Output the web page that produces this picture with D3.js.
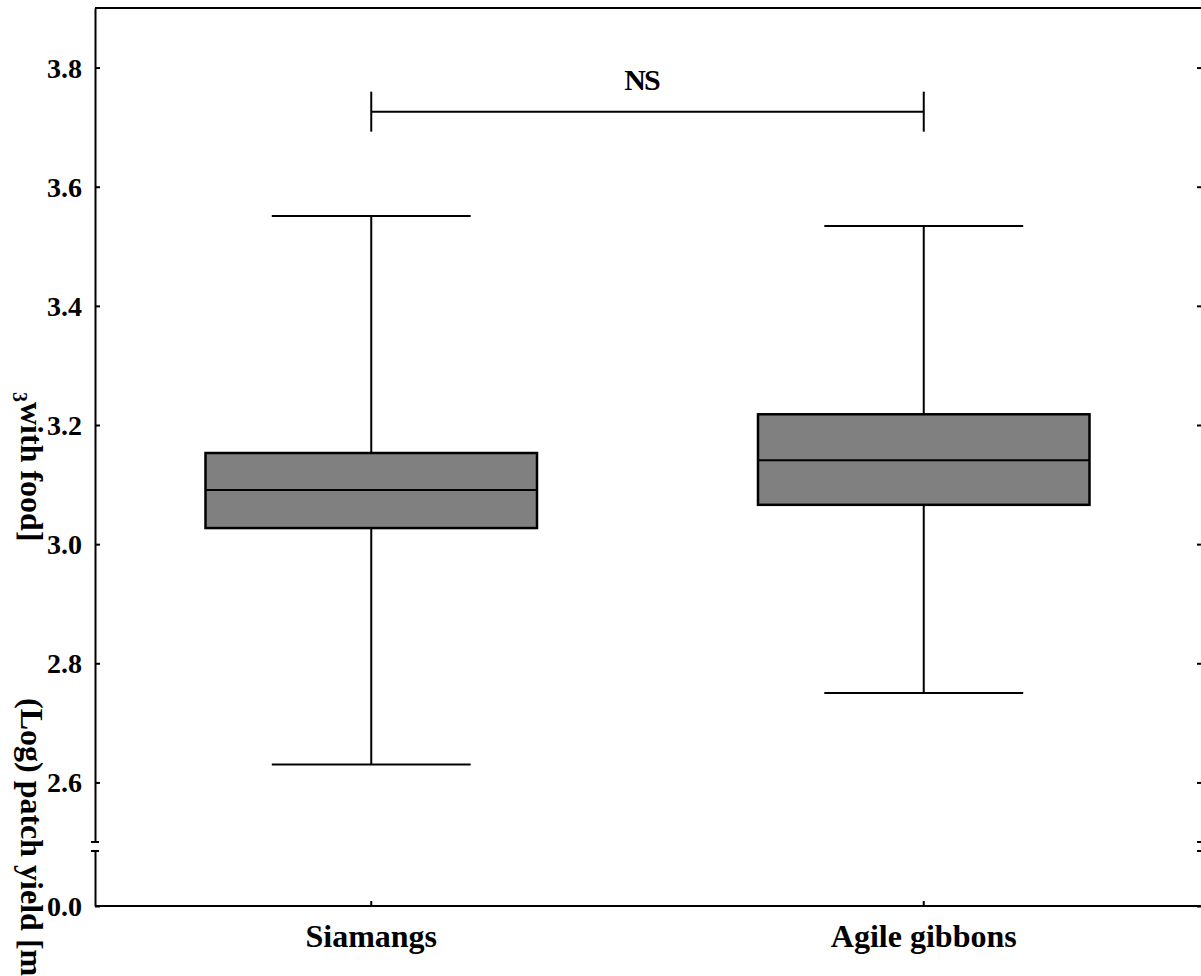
<!DOCTYPE html>
<html>
<head>
<meta charset="utf-8">
<script src="https://cdn.jsdelivr.net/npm/d3@7"></script>
<style>
  body { margin: 0; background: #fff; }
  svg { display: block; }
  .lbl { font-family: 'Liberation Serif', 'Times New Roman', serif; font-weight: bold; fill: #000; }
</style>
</head>
<body>
<svg id="chart" width="1201" height="976"></svg>
<script>
const categories = ['Siamangs', 'Agile gibbons'];
const whiskerHigh = [3.551, 3.534];
const upperQuartile = [3.153, 3.218];
const medians = [3.091, 3.141];
const lowerQuartile = [3.027, 3.066];
const whiskerLow = [2.630, 2.750];
const yTicks = [2.6, 2.8, 3.0, 3.2, 3.4, 3.6, 3.8];
const lowerTicks = [0];
const nsLevel = 3.726;

const width = 1201;
const leftX = 95;
const topY = 8;
const breakTop = 842;
const breakBottom = 851;
const bottomY = 906;

const boxes = categories.map((c, i) => ({
  group: c,
  hi: whiskerHigh[i],
  q3: upperQuartile[i],
  med: medians[i],
  q1: lowerQuartile[i],
  lo: whiskerLow[i]
}));

const svg = d3.select('#chart');

const xscale = d3.scaleBand()
  .domain(categories)
  .range([leftX, 1200])
  .padding(0);

const yscale = d3.scaleLinear()
  .domain([2.5, 3.9])
  .range([breakTop, topY]);

const ylow = d3.scaleLinear()
  .domain([0, 0.1])
  .range([bottomY, breakBottom]);

const cx = (d) => xscale(d.group) + xscale.bandwidth() / 2;
const boxW = xscale.bandwidth() * 0.6;
const capW = xscale.bandwidth() * 0.36;

// frame: top line
svg.append('line')
  .attr('x1', leftX).attr('x2', width)
  .attr('y1', topY).attr('y2', topY)
  .attr('stroke', '#000').attr('stroke-width', 2);

// left axis, upper part
const leftAxis = d3.axisLeft(yscale)
  .tickValues(yTicks)
  .tickFormat(d3.format('.1f'))
  .tickSize(-5)
  .tickSizeOuter(0)
  .tickPadding(13);

const gLeft = svg.append('g')
  .attr('transform', `translate(${leftX}, 0)`)
  .call(leftAxis);

// left axis, lower part after the break
const gLow = svg.append('g')
  .attr('transform', `translate(${leftX}, 0)`)
  .call(d3.axisLeft(ylow).tickValues(lowerTicks).tickFormat(d3.format('.1f'))
    .tickSize(-5).tickSizeOuter(0).tickPadding(13));

[gLeft, gLow].forEach((g) => {
  g.select('.domain').attr('stroke-width', 2);
  g.selectAll('.tick line').attr('stroke-width', 2);
  g.selectAll('text')
    .attr('class', 'lbl')
    .style('font-size', '28px')
    .attr('dy', '0.34em');
});

// break caps on the left axis
[breakTop, breakBottom].forEach((y) => {
  svg.append('line')
    .attr('x1', leftX - 4).attr('x2', leftX + 4)
    .attr('y1', y).attr('y2', y)
    .attr('stroke', '#000').attr('stroke-width', 2);
});

// right side ticks (axis line sits just outside the picture)
const rightX = 1202;
[
  svg.append('g').attr('transform', `translate(${rightX}, 0)`)
    .call(d3.axisLeft(yscale).tickValues(yTicks).tickSize(5).tickSizeOuter(0).tickFormat('')),
  svg.append('g').attr('transform', `translate(${rightX}, 0)`)
    .call(d3.axisLeft(ylow).tickValues(lowerTicks).tickSize(5).tickSizeOuter(0).tickFormat(''))
].forEach((g) => {
  g.select('.domain').attr('stroke-width', 2);
  g.selectAll('.tick line').attr('stroke-width', 2);
});
[breakTop, breakBottom].forEach((y) => {
  svg.append('line')
    .attr('x1', rightX - 5).attr('x2', rightX)
    .attr('y1', y).attr('y2', y)
    .attr('stroke', '#000').attr('stroke-width', 2);
});

// bottom axis
const bottomAxis = d3.axisBottom(xscale)
  .tickSize(-5)
  .tickSizeOuter(0);

const gBottom = svg.append('g')
  .attr('transform', `translate(0, ${bottomY})`)
  .call(bottomAxis);
gBottom.select('.domain').attr('stroke-width', 2).attr('d', `M${leftX},0H${width}`);
gBottom.selectAll('.tick line').attr('stroke-width', 2);
gBottom.selectAll('text')
  .attr('class', 'lbl')
  .style('font-size', '32px')
  .attr('y', 41)
  .attr('dy', 0);

// whiskers
const plot = svg.append('g');

plot.selectAll('line.stem')
  .data(boxes)
  .enter()
  .append('line')
  .attr('class', 'stem')
  .attr('x1', cx).attr('x2', cx)
  .attr('y1', (d) => yscale(d.hi))
  .attr('y2', (d) => yscale(d.lo))
  .attr('stroke', '#000').attr('stroke-width', 2);

['hi', 'lo'].forEach((k) => {
  plot.selectAll(`line.cap-${k}`)
    .data(boxes)
    .enter()
    .append('line')
    .attr('class', `cap-${k}`)
    .attr('x1', (d) => cx(d) - capW / 2)
    .attr('x2', (d) => cx(d) + capW / 2)
    .attr('y1', (d) => yscale(d[k]))
    .attr('y2', (d) => yscale(d[k]))
    .attr('stroke', '#000').attr('stroke-width', 2);
});

// boxes
plot.selectAll('rect')
  .data(boxes)
  .enter()
  .append('rect')
  .attr('x', (d) => cx(d) - boxW / 2)
  .attr('y', (d) => yscale(d.q3))
  .attr('width', boxW)
  .attr('height', (d) => yscale(d.q1) - yscale(d.q3))
  .attr('fill', '#808080')
  .attr('stroke', '#000')
  .attr('stroke-width', 2.5);

plot.selectAll('line.med')
  .data(boxes)
  .enter()
  .append('line')
  .attr('class', 'med')
  .attr('x1', (d) => cx(d) - boxW / 2)
  .attr('x2', (d) => cx(d) + boxW / 2)
  .attr('y1', (d) => yscale(d.med))
  .attr('y2', (d) => yscale(d.med))
  .attr('stroke', '#000').attr('stroke-width', 2);

// NS bracket
const x0 = cx(boxes[0]);
const x1 = cx(boxes[1]);
const yNs = yscale(nsLevel);
const bracket = svg.append('g').attr('stroke', '#000').attr('stroke-width', 2);
bracket.append('line').attr('x1', x0).attr('x2', x1).attr('y1', yNs).attr('y2', yNs);
bracket.append('line').attr('x1', x0).attr('x2', x0).attr('y1', yNs - 20).attr('y2', yNs + 20);
bracket.append('line').attr('x1', x1).attr('x2', x1).attr('y1', yNs - 20).attr('y2', yNs + 20);

svg.append('text')
  .attr('class', 'lbl')
  .attr('x', (x0 + x1) / 2 - 6)
  .attr('y', yNs - 22)
  .attr('text-anchor', 'middle')
  .style('font-size', '30px')
  .style('letter-spacing', '-2px')
  .text('NS');

// y axis title, drawn in two pieces as in the original
svg.append('text')
  .attr('class', 'lbl')
  .attr('transform', 'translate(21, 698) rotate(90)')
  .style('font-size', '32px')
  .text('(Log) patch yield [m');

const t2 = svg.append('text')
  .attr('class', 'lbl')
  .attr('transform', 'translate(21, 392) rotate(90)')
  .style('font-size', '32px');
t2.append('tspan').style('font-size', '20px').attr('dy', 8).text('3');
t2.append('tspan').attr('dy', -8).text('with food]');
</script>
</body>
</html>
